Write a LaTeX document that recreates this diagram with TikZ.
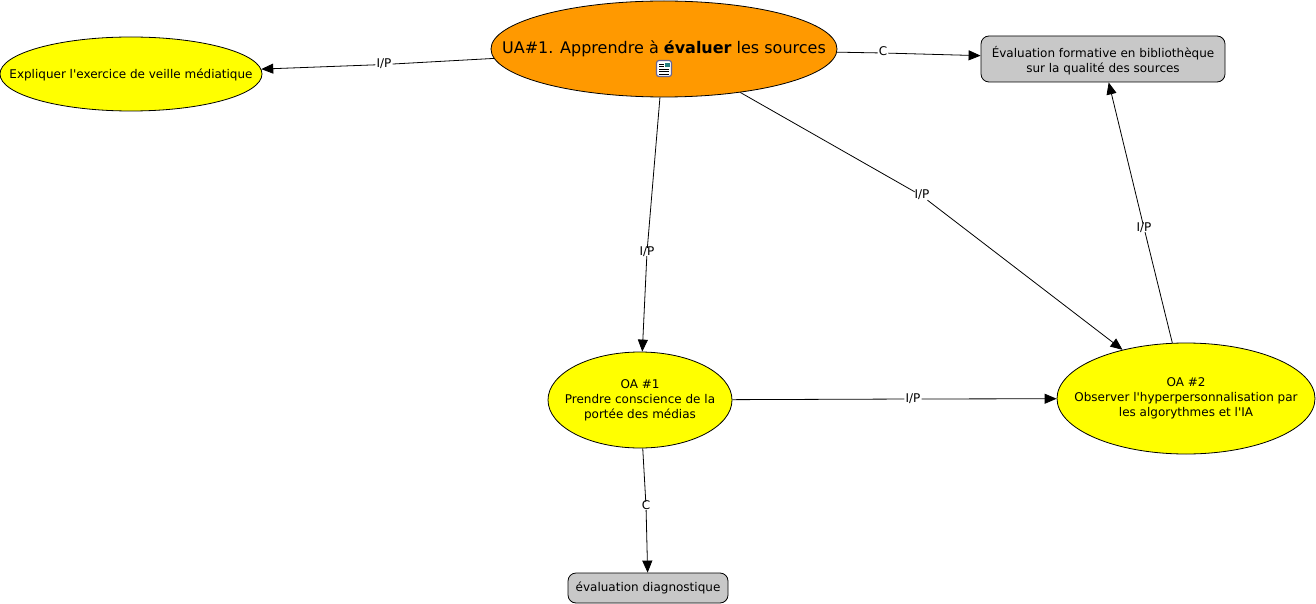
\documentclass[tikz,border=0pt]{standalone}
\usepackage{fontspec}
\setmainfont{DejaVu Sans}[Ligatures=TeXOff]
\usetikzlibrary{shapes.geometric, arrows.meta}
\definecolor{uacolor}{RGB}{255,153,0}
\definecolor{oacolor}{RGB}{255,255,0}
\definecolor{evalcolor}{RGB}{200,200,200}
\newcommand{\flattext}[2][3pt]{\smash{\raisebox{-#1}{\makebox[0pt]{\begin{tabular}{@{}c@{}}#2\end{tabular}}}}}
\tikzstyle{oval} = [ellipse, draw=black, inner sep=0pt, line width=0.8pt, font=\fontsize{12}{15}\selectfont]
\tikzstyle{evalbox} = [rectangle, rounded corners=8pt, draw=black, fill=evalcolor, inner sep=0pt, align=center, line width=0.8pt, font=\fontsize{12}{15}\selectfont]
\tikzstyle{link} = [fill=white, inner sep=1pt, text height=6pt, text depth=0pt, font=\fontsize{12}{13}\selectfont]
\tikzstyle{line} = [line width=0.8pt]
\tikzstyle{arrow} = [line width=0.8pt,-{Triangle[length=12pt,width=10pt]}]

\begin{document}
\begin{tikzpicture}[x=1pt, y=-1pt]
\useasboundingbox (0,0) rectangle (1316,604);

% Concepts
\node[oval, fill=uacolor, minimum width=346pt, minimum height=96pt] (ua) at (664,49) {\flattext{\fontsize{16}{20}\selectfont UA\#1. Apprendre à \textbf{évaluer} les sources}};
\node[oval, fill=oacolor, minimum width=262pt, minimum height=74pt] (veille) at (131,74) {\flattext[5pt]{Expliquer l'exercice de veille médiatique}};
\node[oval, fill=oacolor, minimum width=184pt, minimum height=96pt] (oa1) at (640,400) {\flattext{OA \#1\\Prendre conscience de la\\portée des médias}};
\node[oval, fill=oacolor, minimum width=258pt, minimum height=111pt] (oa2) at (1186,398.5) {\flattext{OA \#2\\Observer l'hyperpersonnalisation par\\les algorythmes et l'IA}};

% Evaluations
\node[evalbox, minimum width=244pt, minimum height=46pt] (formative) at (1103,59) {\flattext[6pt]{Évaluation formative en bibliothèque\hspace{4pt}\\sur la qualité des sources}};
\node[evalbox, minimum width=160pt, minimum height=30pt] (diag) at (648,588) {évaluation diagnostique};

% Resource icon
\node[rectangle, rounded corners=2.5pt, draw=gray!80!blue, fill=white, line width=1.2pt, minimum width=15pt, minimum height=16pt, inner sep=0pt] (icon) at (664,68.5) {};
\draw[black, line width=0.8pt] (659,64) -- (663.5,64) (659,66.5) -- (663.5,66.5) (659,69) -- (669,69) (659,71.5) -- (669,71.5) (659,74) -- (669,74);
\fill[teal!70!gray] (665,63) rectangle (669.5,67);

% Link labels
\node[link] (lveille) at (384,64.5) {I/P};
\node[link] (lform) at (883,53) {C};
\node[link] (loa1) at (647,252) {I/P};
\node[link] (loa2) at (922,196) {I/P};
\node[link] (lretour) at (1144,228) {I/P};
\node[link] (lsuite) at (913,399) {I/P};
\node[link] (ldiag) at (646,506) {C};

% Links
\draw[line] (ua) -- (lveille);
\draw[arrow] (lveille) -- (veille);
\draw[line] (ua) -- (lform);
\draw[arrow] (lform) -- (formative);
\draw[line] (ua) -- (loa1);
\draw[arrow] (loa1) -- (oa1);
\draw[line] (ua) -- (loa2);
\draw[arrow] (loa2) -- (oa2);
\draw[line] (oa2) -- (lretour);
\draw[arrow] (lretour) -- (formative);
\draw[line] (oa1) -- (lsuite);
\draw[arrow] (lsuite) -- (oa2);
\draw[line] (oa1) -- (ldiag);
\draw[arrow] (ldiag) -- (diag);

\end{tikzpicture}
\end{document}
